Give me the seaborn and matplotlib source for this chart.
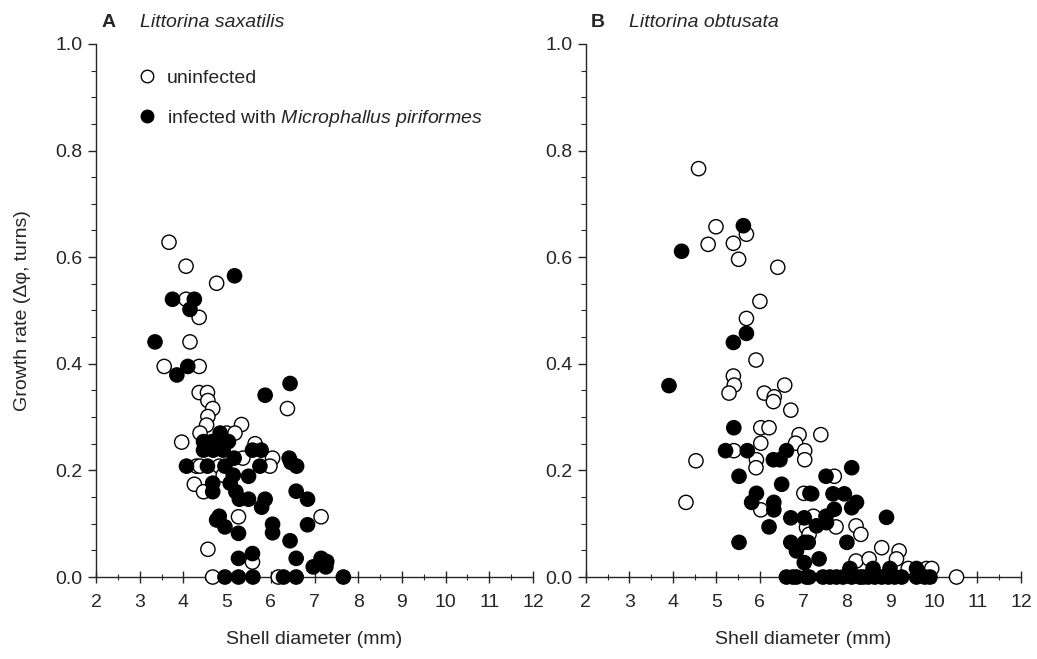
import numpy as np
import pandas as pd
import matplotlib
matplotlib.use("Agg")
import matplotlib.pyplot as plt
from matplotlib.lines import Line2D
from matplotlib.ticker import MultipleLocator
import seaborn as sns

# Panel A - Littorina saxatilis
a_uninf_x = [3.67, 4.06, 4.76, 4.06, 4.36, 4.15, 3.56, 4.36, 4.36, 4.55, 4.56, 4.67,
             4.56, 4.53, 5.33, 6.38, 4.38, 4.99, 5.18, 3.96, 5.64, 6.04, 5.36, 4.30,
             4.38, 4.82, 5.98, 4.91, 4.25, 4.46, 7.15, 5.26, 4.56, 5.58, 4.67, 6.17]
a_uninf_y = [0.628, 0.583, 0.551, 0.521, 0.487, 0.441, 0.395, 0.395, 0.346, 0.346, 0.331, 0.316,
             0.301, 0.285, 0.286, 0.316, 0.270, 0.270, 0.270, 0.253, 0.250, 0.223, 0.223, 0.208,
             0.208, 0.208, 0.208, 0.191, 0.174, 0.160, 0.113, 0.113, 0.052, 0.028, 0.0, 0.0]
a_inf_x = [5.17, 3.75, 4.25, 4.15, 3.35, 4.10, 3.85, 6.44, 5.87, 4.84, 4.46, 4.65,
           4.84, 5.03, 4.46, 4.68, 4.91, 5.58, 5.78, 5.16, 6.42, 6.46, 6.59, 4.07,
           4.55, 4.95, 5.75, 5.14, 5.49, 4.67, 5.07, 4.67, 5.20, 6.58, 5.28, 5.49,
           5.87, 6.84, 5.79, 4.82, 4.76, 4.95, 6.04, 6.04, 6.84, 5.26, 6.44, 5.58,
           5.26, 6.58, 7.15, 7.28, 6.97, 7.26, 4.95, 5.26, 5.59, 6.29, 6.58, 7.66]
a_inf_y = [0.565, 0.521, 0.521, 0.502, 0.441, 0.395, 0.379, 0.363, 0.341, 0.270, 0.254, 0.254,
           0.254, 0.254, 0.238, 0.238, 0.238, 0.238, 0.238, 0.223, 0.223, 0.215, 0.208, 0.208,
           0.208, 0.208, 0.208, 0.191, 0.189, 0.176, 0.176, 0.160, 0.160, 0.161, 0.146, 0.146,
           0.146, 0.146, 0.131, 0.114, 0.107, 0.094, 0.099, 0.083, 0.098, 0.082, 0.068, 0.044,
           0.035, 0.035, 0.035, 0.029, 0.019, 0.019, 0.0, 0.0, 0.0, 0.0, 0.0, 0.0]

# Panel B - Littorina obtusata
b_uninf_x = [4.59, 4.99, 5.69, 4.81, 5.39, 5.51, 6.41, 6.00, 5.69, 5.91, 5.39, 5.41,
             5.29, 6.10, 6.57, 6.33, 6.31, 6.71, 6.02, 6.21, 6.90, 7.40, 6.02, 6.82,
             5.40, 7.03, 5.92, 5.91, 7.03, 7.01, 6.02, 4.30, 4.53, 7.07, 7.71, 7.23,
             7.75, 8.21, 8.32, 7.13, 8.80, 9.20, 9.14, 8.21, 8.51, 9.41, 9.83, 9.95,
             10.52, 8.37]
b_uninf_y = [0.766, 0.657, 0.643, 0.624, 0.626, 0.596, 0.581, 0.517, 0.485, 0.407, 0.377, 0.360,
             0.345, 0.345, 0.360, 0.338, 0.329, 0.313, 0.280, 0.280, 0.267, 0.267, 0.251, 0.251,
             0.237, 0.237, 0.220, 0.205, 0.220, 0.157, 0.126, 0.140, 0.218, 0.093, 0.189, 0.114,
             0.094, 0.096, 0.080, 0.080, 0.055, 0.049, 0.034, 0.030, 0.034, 0.016, 0.016, 0.016,
             0.0, 0.0]
b_inf_x = [5.62, 4.20, 5.69, 5.39, 3.91, 5.40, 5.21, 5.71, 6.61, 6.31, 6.46, 5.52,
           6.50, 5.92, 7.15, 5.81, 6.32, 6.32, 6.21, 6.71, 7.02, 5.52, 6.71, 6.84,
           7.03, 7.02, 8.11, 7.52, 7.19, 7.68, 7.94, 8.22, 8.11, 7.71, 7.52, 7.53,
           7.30, 8.91, 7.11, 8.00, 7.36, 8.07, 8.60, 8.99, 9.60, 6.61, 6.76, 6.84,
           7.07, 7.13, 7.45, 7.61, 7.76, 7.91, 8.11, 8.30, 8.49, 8.64, 8.80, 8.95,
           9.10, 9.26, 9.60, 9.79, 9.91]
b_inf_y = [0.659, 0.611, 0.457, 0.440, 0.359, 0.280, 0.237, 0.237, 0.237, 0.220, 0.220, 0.189,
           0.174, 0.157, 0.157, 0.140, 0.140, 0.126, 0.094, 0.111, 0.111, 0.065, 0.065, 0.049,
           0.065, 0.027, 0.205, 0.189, 0.156, 0.156, 0.156, 0.140, 0.130, 0.127, 0.114, 0.102,
           0.096, 0.112, 0.065, 0.065, 0.034, 0.016, 0.016, 0.016, 0.016, 0.0, 0.0, 0.0,
           0.0, 0.0, 0.0, 0.0, 0.0, 0.0, 0.0, 0.0, 0.0, 0.0, 0.0, 0.0,
           0.0, 0.0, 0.0, 0.0, 0.0]

panel_letters = ["A", "B"]
species = ["Littorina saxatilis", "Littorina obtusata"]
x_ticks = list(range(2, 13))
y_ticks = [0.0, 0.2, 0.4, 0.6, 0.8, 1.0]

sns.set_style("ticks")
plt.rcParams["font.family"] = ["Liberation Sans", "DejaVu Sans"]
plt.rcParams["mathtext.fontset"] = "custom"
plt.rcParams["mathtext.it"] = "Liberation Sans:italic"
plt.rcParams["mathtext.rm"] = "Liberation Sans"

def make_df(ux, uy, ix, iy):
    d1 = pd.DataFrame({"diam": ux, "rate": uy, "status": "uninfected"})
    d2 = pd.DataFrame({"diam": ix, "rate": iy, "status": "infected"})
    return pd.concat([d1, d2], ignore_index=True)

dfs = [make_df(a_uninf_x, a_uninf_y, a_inf_x, a_inf_y),
       make_df(b_uninf_x, b_uninf_y, b_inf_x, b_inf_y)]

fig = plt.figure(figsize=(10.37, 6.59), dpi=100)
ax_a = fig.add_axes([0.0926, 0.1244, 0.4214, 0.809])
ax_b = fig.add_axes([0.565, 0.1244, 0.4195, 0.809])

for i, ax in enumerate([ax_a, ax_b]):
    sns.scatterplot(data=dfs[i], x="diam", y="rate", hue="status",
                    palette={"uninfected": "white", "infected": "black"},
                    edgecolor="black", linewidth=1.0, s=105, legend=False,
                    clip_on=False, zorder=3, ax=ax)
    ax.set_xlim(2, 12)
    ax.set_ylim(0, 1.0)
    ax.set_xticks(x_ticks)
    ax.set_yticks(y_ticks)
    ax.set_yticklabels([f"{v:.1f}" for v in y_ticks])
    ax.xaxis.set_minor_locator(MultipleLocator(0.5))
    ax.yaxis.set_minor_locator(MultipleLocator(0.05))
    ax.tick_params(axis="x", which="major", direction="inout", length=9, width=1, labelsize=14, pad=8)
    ax.tick_params(axis="x", which="minor", direction="inout", length=5, width=0.8)
    ax.tick_params(axis="y", which="major", direction="out", length=6, width=1, labelsize=14)
    ax.tick_params(axis="y", which="minor", direction="out", length=3.5, width=0.8)
    for sp in ["top", "right"]:
        ax.spines[sp].set_visible(False)
    for sp in ["left", "bottom"]:
        ax.spines[sp].set_linewidth(1.0)
    ax.set_xlabel("Shell diameter (mm)", fontsize=14, labelpad=14)
    ax.set_ylabel("")
    ax.text(0.012, 1.041, panel_letters[i], transform=ax.transAxes, fontsize=14,
            fontweight="bold", va="center", ha="left")
    ax.text(0.10, 1.041, species[i], transform=ax.transAxes, fontsize=14,
            style="italic", va="center", ha="left")

ax_a.set_ylabel("Growth rate (\u0394\u03c6, turns)", fontsize=14, labelpad=18)

handles = [Line2D([], [], marker="o", linestyle="", markerfacecolor="white",
                  markeredgecolor="black", markersize=9, markeredgewidth=1),
           Line2D([], [], marker="o", linestyle="", markerfacecolor="black",
                  markeredgecolor="black", markersize=9, markeredgewidth=1)]
ax_a.legend(handles, ["uninfected", r"infected with $\it{Microphallus}$ $\it{piriformes}$"],
            loc="upper left", bbox_to_anchor=(0.055, 0.967), frameon=False,
            fontsize=14, handletextpad=0.0, labelspacing=1.1, borderaxespad=0)

fig.savefig("out.png", dpi=100)
